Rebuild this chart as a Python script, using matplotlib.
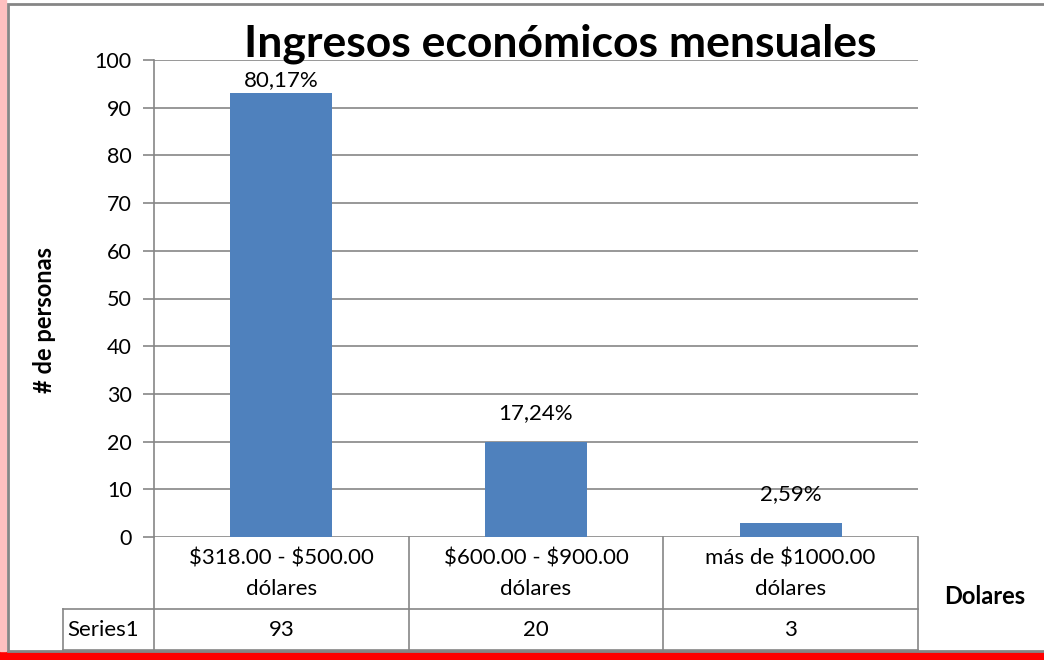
import matplotlib
matplotlib.use("Agg")
import matplotlib.pyplot as plt
from matplotlib.patches import Rectangle
import matplotlib.transforms as mtransforms

# ---------- data ----------
categories = [r"\$318.00 - \$500.00" + "\ndólares", r"\$600.00 - \$900.00" + "\ndólares",
              r"más de \$1000.00" + "\ndólares"]
counts = [93, 20, 3]
pct_labels = ["80,17%", "17,24%", "2,59%"]
series_name = "Series1"
yticks = list(range(0, 101, 10))

BAR = "#4f81bd"
GRID = "#868686"
FONT = "Lato"

W, H = 1044, 660
fig = plt.figure(figsize=(W / 100, H / 100), dpi=100)

# chart frame with red shadow
fig.patches.append(Rectangle((0, 0), 1, 9 / H, transform=fig.transFigure,
                             color="#ff0000", zorder=0))
fig.patches.append(Rectangle((0, 9 / H), 6 / W, 1, transform=fig.transFigure,
                             color="#ffc0c0", zorder=0))
fig.patches.append(Rectangle((8 / W, 1 - 651 / H), 1.1, (651 - 4) / H, transform=fig.transFigure,
                             facecolor="white", edgecolor=GRID, lw=2, zorder=1))

L, R, T, B = 154, 918, 60, 537
ax = fig.add_axes([L / W, 1 - B / H, (R - L) / W, (B - T) / H])
ax.set_zorder(2)
ax.patch.set_alpha(0)

x = list(range(len(counts)))
ax.bar(x, counts, width=0.4, color=BAR, zorder=3)
for xi, v, lab in zip(x, counts, pct_labels):
    ax.text(xi, min(v + 6, 95.8), lab, ha="center", va="center", fontsize=16, family=FONT)

ax.set_xlim(-0.5, 2.5)
ax.set_ylim(0, 100)
ax.set_yticks(yticks)
ax.set_yticklabels([str(t) for t in yticks], fontsize=15.5, family=FONT)
ax.yaxis.grid(True, color=GRID, lw=1.2, zorder=1)
ax.set_axisbelow(True)
ax.set_xticks([])
for s in ["top", "right", "bottom"]:
    ax.spines[s].set_visible(False)
ax.spines["left"].set_color(GRID)
ax.spines["left"].set_linewidth(1.2)
ax.tick_params(axis="y", length=8, color=GRID, width=1.2, pad=8)

# data table under the axis
tr = mtransforms.blended_transform_factory(ax.transData, ax.transAxes)
h = B - T
r1 = -(609 - B) / h
r2 = -(650 - B) / h
rc = -(574 - B) / h
xl = -0.5 - (L - 63) / ((R - L) / 3)
kw = dict(color=GRID, lw=1.2, transform=tr, clip_on=False)
ax.plot([-0.5, -0.5], [0, r2], **kw)
for b in [0.5, 1.5, 2.5]:
    ax.plot([b, b], [0, r2], **kw)
ax.plot([xl, 2.5], [r1, r1], **kw)
ax.plot([xl, 2.5], [r2, r2], **kw)
ax.plot([xl, xl], [r1, r2], **kw)
for xi, cat, v in zip(x, categories, counts):
    ax.text(xi, rc, cat, ha="center", va="center", fontsize=16, family=FONT,
            transform=tr, linespacing=1.65)
    ax.text(xi, (r1 + r2) / 2, str(v), ha="center", va="center", fontsize=16,
            family=FONT, transform=tr)
ax.text(xl + 0.015, (r1 + r2) / 2, series_name, ha="left", va="center", fontsize=16,
        family=FONT, transform=tr)

fig.text(560 / W, 1 - 44 / H, "Ingresos económicos mensuales", ha="center", va="center",
         fontsize=32, fontweight="bold", family=FONT, zorder=5)
fig.text(45 / W, 1 - 320 / H, "# de personas", rotation=90, ha="center", va="center",
         fontsize=17, fontweight="bold", family=FONT)
fig.text(985 / W, 1 - 597 / H, "Dolares", ha="center", va="center",
         fontsize=17, fontweight="bold", family=FONT)

fig.savefig("out.png", dpi=100)
